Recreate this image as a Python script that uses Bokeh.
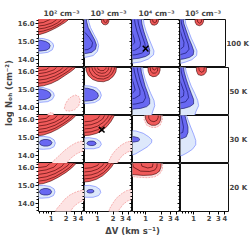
from bokeh.plotting import figure
from bokeh.layouts import row, column
from bokeh.models import Range1d, FixedTicker, PrintfTickFormatter, LinearAxis, Title
from bokeh.embed import file_html
from bokeh.resources import INLINE

# ---------------- data ----------------
T_LABELS = ["100 K", "50 K", "30 K", "20 K"]
N_LABELS = ["10² cm⁻³", "10³ cm⁻³", "10⁴ cm⁻³", "10⁵ cm⁻³"]
X_TICKS = [1, 2, 3, 4]
X_MINOR = [0.6, 0.7, 0.8, 0.9]
Y_TICKS = [14, 15, 16]
Y_MINOR = [13.6, 13.8, 14.2, 14.4, 14.6, 14.8, 15.2, 15.4, 15.6, 15.8, 16.2]
X_LABEL = "ΔV (km s⁻¹)"
Y_LABEL = "log Nₒₕ (cm⁻²)"

# best-fit markers
MARK_ROW = [0, 2]
MARK_COL = [2, 1]
MARK_DV = [1.0, 1.2]
MARK_N = [14.61, 15.45]

# contour polygons, vertices as (dV [km/s], log N)
# ---- 100 K ----
red_100K_1e2 = [
    [(0.45, 15.38), (0.6, 15.41), (0.8, 15.52), (1.0, 15.64), (1.3, 15.8), (1.6, 15.95), (1.9, 16.08), (2.2, 16.22), (2.35, 16.4), (0.45, 16.4)],
    [(0.45, 15.52), (0.7, 15.6), (1.0, 15.74), (1.3, 15.9), (1.6, 16.05), (1.9, 16.24), (2.0, 16.4), (0.45, 16.4)],
    [(0.45, 15.68), (0.75, 15.77), (1.05, 15.9), (1.35, 16.06), (1.6, 16.22), (1.7, 16.4), (0.45, 16.4)],
    [(0.45, 15.85), (0.75, 15.93), (1.05, 16.06), (1.3, 16.25), (1.38, 16.4), (0.45, 16.4)],
    [(0.45, 16.02), (0.7, 16.08), (0.95, 16.25), (1.02, 16.4), (0.45, 16.4)],
]
blue_100K_1e2 = [
    [(0.45, 15.08), (0.62, 15.08), (0.78, 15.02), (0.9, 14.92), (0.96, 14.78), (0.92, 14.62), (0.8, 14.52), (0.62, 14.48), (0.45, 14.48)],
]
lblue_100K_1e2 = [
    [(0.45, 15.2), (0.7, 15.18), (0.92, 15.08), (1.08, 14.92), (1.13, 14.76), (1.06, 14.55), (0.86, 14.4), (0.62, 14.35), (0.45, 14.35)],
]
pink_100K_1e2 = []

red_100K_1e3 = [
    [(1.17, 16.4), (1.19, 16.1), (1.28, 15.98), (1.42, 15.95), (1.56, 16.0), (1.64, 16.12), (1.66, 16.4)],
    [(1.3, 16.4), (1.32, 16.14), (1.42, 16.07), (1.52, 16.12), (1.55, 16.4)],
]
blue_100K_1e3 = [
    [(0.45, 16.4), (0.6, 16.4), (0.62, 16.1), (0.66, 15.8), (0.76, 15.45), (0.88, 15.1), (0.95, 14.82), (0.91, 14.57), (0.77, 14.4), (0.6, 14.34), (0.45, 14.34)],
    [(0.45, 15.65), (0.58, 15.5), (0.7, 15.22), (0.8, 14.95), (0.77, 14.7), (0.65, 14.56), (0.45, 14.52)],
]
lblue_100K_1e3 = [
    [(0.45, 16.4), (0.65, 16.4), (0.68, 16.1), (0.73, 15.8), (0.85, 15.42), (0.99, 15.05), (1.05, 14.78), (0.99, 14.45), (0.82, 14.22), (0.6, 14.13), (0.45, 14.12)],
]
pink_100K_1e3 = []

red_100K_1e4 = [
    [(1.22, 16.4), (1.24, 16.1), (1.32, 15.96), (1.48, 15.93), (1.66, 15.99), (1.76, 16.12), (1.78, 16.4)],
    [(1.35, 16.4), (1.38, 16.13), (1.5, 16.07), (1.62, 16.13), (1.64, 16.4)],
]
blue_100K_1e4 = [
    [(0.45, 16.4), (0.82, 16.4), (0.85, 16.0), (0.92, 15.6), (1.02, 15.2), (1.12, 14.85), (1.2, 14.52), (1.18, 14.3), (1.0, 14.17), (0.75, 14.07), (0.45, 14.0)],
    [(0.45, 16.4), (0.7, 16.4), (0.73, 16.0), (0.8, 15.6), (0.89, 15.2), (0.97, 14.88), (1.0, 14.58), (0.87, 14.37), (0.65, 14.27), (0.45, 14.23)],
    [(0.45, 16.4), (0.6, 16.4), (0.63, 16.0), (0.68, 15.6), (0.75, 15.22), (0.8, 14.93), (0.78, 14.7), (0.62, 14.52), (0.45, 14.47)],
    [(0.45, 15.95), (0.55, 15.55), (0.6, 15.2), (0.62, 14.95), (0.55, 14.8), (0.45, 14.75)],
]
lblue_100K_1e4 = [
    [(0.45, 16.4), (0.9, 16.4), (0.93, 16.0), (1.02, 15.6), (1.15, 15.2), (1.3, 14.82), (1.45, 14.48), (1.42, 14.26), (1.12, 14.02), (0.8, 13.86), (0.45, 13.76)],
]
pink_100K_1e4 = []

red_100K_1e5 = [
    [(1.1, 16.4), (1.12, 16.1), (1.2, 15.95), (1.38, 15.9), (1.56, 15.97), (1.66, 16.12), (1.68, 16.4)],
    [(1.23, 16.4), (1.26, 16.12), (1.38, 16.04), (1.5, 16.1), (1.53, 16.4)],
]
blue_100K_1e5 = [
    [(0.45, 16.4), (0.62, 16.4), (0.66, 16.0), (0.74, 15.6), (0.83, 15.2), (0.95, 14.82), (1.05, 14.48), (1.02, 14.26), (0.86, 14.12), (0.65, 14.03), (0.45, 13.98)],
    [(0.45, 16.4), (0.56, 16.4), (0.59, 16.0), (0.65, 15.6), (0.72, 15.22), (0.8, 14.88), (0.84, 14.58), (0.73, 14.37), (0.55, 14.27), (0.45, 14.24)],
    [(0.45, 16.1), (0.54, 15.7), (0.6, 15.3), (0.66, 14.97), (0.65, 14.72), (0.54, 14.55), (0.45, 14.52)],
    [(0.45, 15.45), (0.52, 15.2), (0.54, 14.96), (0.45, 14.82)],
]
lblue_100K_1e5 = [
    [(0.45, 16.4), (0.68, 16.4), (0.72, 16.0), (0.82, 15.6), (0.93, 15.2), (1.08, 14.82), (1.22, 14.48), (1.2, 14.22), (0.96, 13.99), (0.7, 13.85), (0.45, 13.72)],
]
pink_100K_1e5 = []

# ---- 50 K ----
red_50K_1e2 = [
    [(0.45, 15.16), (0.7, 15.22), (1.0, 15.35), (1.4, 15.55), (1.9, 15.8), (2.5, 16.02), (3.0, 16.2), (3.3, 16.4), (0.45, 16.4)],
    [(0.45, 15.32), (0.8, 15.42), (1.2, 15.6), (1.7, 15.84), (2.2, 16.04), (2.7, 16.25), (2.9, 16.4), (0.45, 16.4)],
    [(0.45, 15.5), (0.8, 15.6), (1.2, 15.77), (1.7, 16.0), (2.15, 16.22), (2.4, 16.4), (0.45, 16.4)],
    [(0.45, 15.68), (0.8, 15.79), (1.2, 15.95), (1.6, 16.14), (1.9, 16.4), (0.45, 16.4)],
    [(0.45, 15.86), (0.8, 15.97), (1.15, 16.12), (1.45, 16.4), (0.45, 16.4)],
    [(0.45, 16.04), (0.8, 16.13), (1.05, 16.4), (0.45, 16.4)],
]
blue_50K_1e2 = [
    [(0.45, 15.04), (0.62, 15.04), (0.8, 14.97), (0.94, 14.85), (1.0, 14.7), (0.94, 14.56), (0.78, 14.46), (0.6, 14.43), (0.45, 14.43)],
]
lblue_50K_1e2 = [
    [(0.45, 15.15), (0.7, 15.12), (0.95, 15.0), (1.12, 14.83), (1.16, 14.66), (1.06, 14.46), (0.86, 14.33), (0.6, 14.29), (0.45, 14.29)],
]
pink_50K_1e2 = [
    [(1.85, 13.95), (1.95, 14.2), (2.2, 14.45), (2.6, 14.62), (3.1, 14.7), (3.6, 14.62), (3.85, 14.4), (3.6, 14.1), (3.0, 13.88), (2.4, 13.8), (2.0, 13.82)],
    [(0.85, 13.4), (0.87, 13.64), (0.98, 13.71), (1.1, 13.68), (1.16, 13.4)],
]

red_50K_1e3 = [
    [(0.6, 16.4), (0.6, 16.1), (0.66, 15.8), (0.8, 15.58), (1.0, 15.47), (1.3, 15.45), (1.65, 15.55), (2.0, 15.75), (2.25, 16.0), (2.35, 16.4)],
    [(0.68, 16.4), (0.7, 16.05), (0.8, 15.78), (1.0, 15.63), (1.3, 15.6), (1.6, 15.7), (1.9, 15.9), (2.1, 16.15), (2.15, 16.4)],
    [(0.76, 16.4), (0.8, 16.1), (0.92, 15.88), (1.1, 15.77), (1.35, 15.76), (1.6, 15.85), (1.8, 16.05), (1.9, 16.4)],
    [(0.86, 16.4), (0.9, 16.12), (1.02, 15.97), (1.2, 15.92), (1.4, 15.95), (1.6, 16.1), (1.65, 16.4)],
    [(0.97, 16.4), (1.02, 16.15), (1.15, 16.07), (1.32, 16.08), (1.45, 16.2), (1.48, 16.4)],
]
blue_50K_1e3 = [
    [(0.45, 15.1), (0.65, 15.08), (0.85, 14.98), (1.0, 14.82), (1.04, 14.65), (0.97, 14.5), (0.8, 14.4), (0.6, 14.36), (0.45, 14.36)],
]
lblue_50K_1e3 = [
    [(0.45, 15.24), (0.7, 15.21), (0.95, 15.1), (1.12, 14.9), (1.18, 14.68), (1.1, 14.45), (0.88, 14.28), (0.6, 14.22), (0.45, 14.22)],
]
pink_50K_1e3 = []

red_50K_1e4 = [
    [(1.1, 16.4), (1.12, 16.05), (1.2, 15.82), (1.38, 15.73), (1.6, 15.76), (1.8, 15.88), (1.9, 16.1), (1.9, 16.4)],
    [(1.22, 16.4), (1.25, 16.05), (1.38, 15.93), (1.55, 15.94), (1.7, 16.05), (1.72, 16.4)],
    [(1.35, 16.4), (1.38, 16.15), (1.5, 16.1), (1.6, 16.2), (1.6, 16.4)],
]
blue_50K_1e4 = [
    [(0.45, 16.4), (0.8, 16.4), (0.83, 16.0), (0.9, 15.6), (0.98, 15.2), (1.1, 14.8), (1.2, 14.45), (1.2, 14.2), (1.05, 14.05), (0.8, 13.95), (0.45, 13.88)],
    [(0.45, 16.4), (0.68, 16.4), (0.71, 16.0), (0.77, 15.6), (0.85, 15.2), (0.95, 14.85), (1.0, 14.55), (0.9, 14.3), (0.65, 14.2), (0.45, 14.15)],
    [(0.45, 16.4), (0.58, 16.4), (0.61, 16.0), (0.66, 15.6), (0.72, 15.25), (0.78, 14.95), (0.78, 14.7), (0.62, 14.52), (0.45, 14.45)],
    [(0.45, 16.0), (0.55, 15.6), (0.6, 15.25), (0.63, 14.98), (0.56, 14.8), (0.45, 14.75)],
]
lblue_50K_1e4 = [
    [(0.45, 16.4), (0.87, 16.4), (0.9, 16.0), (0.98, 15.6), (1.1, 15.2), (1.25, 14.8), (1.45, 14.4), (1.5, 14.1), (1.38, 13.8), (1.25, 13.4), (0.45, 13.4)],
]
pink_50K_1e4 = []

red_50K_1e5 = [
    [(1.12, 16.4), (1.14, 16.05), (1.22, 15.85), (1.4, 15.8), (1.6, 15.85), (1.75, 16.0), (1.8, 16.4)],
    [(1.25, 16.4), (1.28, 16.08), (1.42, 15.98), (1.58, 16.05), (1.62, 16.4)],
]
blue_50K_1e5 = [
    [(0.45, 16.4), (0.63, 16.4), (0.66, 16.0), (0.72, 15.6), (0.8, 15.2), (0.9, 14.8), (1.0, 14.45), (1.0, 14.2), (0.85, 14.05), (0.65, 13.95), (0.45, 13.9)],
    [(0.45, 16.4), (0.56, 16.4), (0.58, 16.0), (0.63, 15.6), (0.7, 15.2), (0.77, 14.85), (0.8, 14.55), (0.7, 14.32), (0.45, 14.2)],
    [(0.45, 16.0), (0.53, 15.6), (0.6, 15.2), (0.65, 14.9), (0.64, 14.65), (0.52, 14.5), (0.45, 14.48)],
    [(0.45, 15.3), (0.52, 15.0), (0.52, 14.8), (0.45, 14.72)],
]
lblue_50K_1e5 = [
    [(0.45, 16.4), (0.68, 16.4), (0.72, 16.0), (0.8, 15.6), (0.9, 15.2), (1.05, 14.8), (1.2, 14.4), (1.25, 14.1), (1.12, 13.8), (1.0, 13.4), (0.45, 13.4)],
]
pink_50K_1e5 = []

# ---- 30 K ----
red_30K_1e2 = [
    [(0.45, 15.08), (0.7, 15.15), (1.0, 15.3), (1.4, 15.5), (2.0, 15.78), (2.6, 16.02), (3.1, 16.22), (3.35, 16.4), (0.45, 16.4)],
    [(0.45, 15.25), (0.8, 15.35), (1.2, 15.53), (1.7, 15.77), (2.3, 16.02), (2.8, 16.25), (3.0, 16.4), (0.45, 16.4)],
    [(0.45, 15.43), (0.8, 15.53), (1.2, 15.7), (1.7, 15.94), (2.2, 16.16), (2.5, 16.4), (0.45, 16.4)],
    [(0.45, 15.62), (0.8, 15.72), (1.2, 15.88), (1.65, 16.1), (2.0, 16.4), (0.45, 16.4)],
    [(0.45, 15.81), (0.8, 15.91), (1.15, 16.06), (1.5, 16.4), (0.45, 16.4)],
    [(0.45, 16.0), (0.8, 16.09), (1.1, 16.4), (0.45, 16.4)],
]
blue_30K_1e2 = [
    [(0.58, 14.72), (0.62, 14.84), (0.72, 14.9), (0.85, 14.9), (0.98, 14.84), (1.05, 14.72), (0.98, 14.59), (0.85, 14.53), (0.72, 14.53), (0.62, 14.59)],
]
lblue_30K_1e2 = [
    [(0.45, 15.05), (0.7, 15.08), (0.95, 15.02), (1.15, 14.88), (1.22, 14.7), (1.15, 14.5), (0.95, 14.38), (0.7, 14.35), (0.45, 14.38)],
]
pink_30K_1e2 = [
    [(1.0, 13.4), (1.1, 13.68), (1.4, 13.95), (1.9, 14.3), (2.5, 14.55), (3.2, 14.72), (4.0, 14.8), (5.0, 14.8), (5.0, 14.28), (4.0, 14.22), (3.2, 14.08), (2.5, 13.85), (2.1, 13.6), (1.9, 13.4)],
]

red_30K_1e3 = [
    [(0.45, 15.1), (0.7, 15.14), (0.95, 15.24), (1.2, 15.38), (1.5, 15.62), (1.8, 15.9), (2.05, 16.18), (2.15, 16.4), (0.45, 16.4)],
    [(0.45, 15.28), (0.75, 15.33), (1.0, 15.45), (1.3, 15.65), (1.6, 15.92), (1.85, 16.2), (1.95, 16.4), (0.45, 16.4)],
    [(0.45, 15.47), (0.75, 15.53), (1.0, 15.65), (1.3, 15.87), (1.55, 16.12), (1.7, 16.4), (0.45, 16.4)],
    [(0.45, 15.67), (0.75, 15.73), (1.0, 15.86), (1.25, 16.05), (1.45, 16.4), (0.45, 16.4)],
    [(0.45, 15.87), (0.75, 15.93), (1.0, 16.07), (1.2, 16.4), (0.45, 16.4)],
]
blue_30K_1e3 = [
    [(0.62, 14.68), (0.65, 14.77), (0.72, 14.81), (0.82, 14.81), (0.9, 14.76), (0.94, 14.68), (0.9, 14.6), (0.82, 14.56), (0.72, 14.56), (0.65, 14.6)],
]
lblue_30K_1e3 = [
    [(0.45, 14.98), (0.7, 15.0), (0.95, 14.93), (1.13, 14.78), (1.18, 14.62), (1.08, 14.46), (0.85, 14.38), (0.6, 14.38), (0.45, 14.42)],
]
pink_30K_1e3 = [
    [(1.55, 13.4), (1.65, 13.7), (1.9, 14.05), (2.3, 14.35), (2.9, 14.6), (3.6, 14.75), (5.0, 14.85), (5.0, 14.3), (3.8, 14.2), (3.0, 14.0), (2.5, 13.7), (2.3, 13.4)],
]

red_30K_1e4 = [
    [(1.0, 16.4), (1.0, 16.05), (1.1, 15.82), (1.3, 15.7), (1.55, 15.7), (1.8, 15.8), (1.95, 16.0), (1.98, 16.4)],
    [(1.15, 16.4), (1.15, 16.1), (1.25, 15.95), (1.45, 15.9), (1.65, 15.98), (1.75, 16.15), (1.75, 16.4)],
]
blue_30K_1e4 = [
    [(0.45, 15.05), (0.6, 15.06), (0.72, 15.0), (0.78, 14.9), (0.72, 14.8), (0.6, 14.76), (0.45, 14.76)],
]
lblue_30K_1e4 = [
    [(0.45, 15.4), (0.65, 15.38), (0.9, 15.25), (1.15, 15.05), (1.32, 14.88), (1.3, 14.72), (1.1, 14.5), (0.85, 14.3), (0.65, 14.1), (0.5, 13.98), (0.45, 13.98)],
]
pink_30K_1e4 = [
    [(0.95, 16.4), (0.94, 16.0), (1.05, 15.7), (1.3, 15.58), (1.6, 15.58), (1.9, 15.7), (2.1, 16.0), (2.1, 16.4)],
]

red_30K_1e5 = []
blue_30K_1e5 = [
    [(0.45, 16.4), (0.66, 16.4), (0.72, 16.0), (0.78, 15.6), (0.78, 15.3), (0.72, 15.05), (0.6, 14.95), (0.45, 14.92)],
    [(0.45, 16.4), (0.56, 16.4), (0.6, 16.0), (0.64, 15.6), (0.62, 15.3), (0.45, 15.15)],
]
lblue_30K_1e5 = [
    [(0.45, 16.4), (0.7, 16.4), (0.78, 16.0), (0.88, 15.6), (1.0, 15.2), (1.1, 14.85), (1.1, 14.6), (0.95, 14.35), (0.75, 14.15), (0.6, 14.0), (0.45, 13.95)],
]
pink_30K_1e5 = []

# ---- 20 K ----
red_20K_1e2 = [
    [(0.45, 15.05), (0.7, 15.12), (1.0, 15.27), (1.4, 15.48), (2.0, 15.75), (2.6, 16.0), (3.1, 16.22), (3.3, 16.4), (0.45, 16.4)],
    [(0.45, 15.22), (0.8, 15.32), (1.2, 15.5), (1.7, 15.75), (2.3, 16.0), (2.8, 16.24), (3.0, 16.4), (0.45, 16.4)],
    [(0.45, 15.4), (0.8, 15.5), (1.2, 15.68), (1.7, 15.92), (2.2, 16.15), (2.5, 16.4), (0.45, 16.4)],
    [(0.45, 15.6), (0.8, 15.7), (1.2, 15.86), (1.65, 16.09), (2.0, 16.4), (0.45, 16.4)],
    [(0.45, 15.79), (0.8, 15.89), (1.15, 16.05), (1.5, 16.4), (0.45, 16.4)],
    [(0.45, 15.98), (0.8, 16.08), (1.1, 16.4), (0.45, 16.4)],
]
blue_20K_1e2 = [
    [(0.58, 14.66), (0.62, 14.78), (0.72, 14.84), (0.85, 14.84), (0.97, 14.78), (1.03, 14.66), (0.97, 14.53), (0.85, 14.48), (0.72, 14.48), (0.62, 14.53)],
]
lblue_20K_1e2 = [
    [(0.45, 15.0), (0.7, 15.02), (0.95, 14.96), (1.15, 14.82), (1.2, 14.65), (1.12, 14.45), (0.9, 14.33), (0.65, 14.3), (0.45, 14.33)],
]
pink_20K_1e2 = [
    [(1.15, 13.4), (1.3, 13.7), (1.55, 13.95), (1.9, 14.25), (2.4, 14.48), (3.0, 14.62), (3.6, 14.7), (5.0, 14.78), (5.0, 14.15), (4.2, 14.15), (3.4, 14.0), (2.8, 13.8), (2.45, 13.55), (2.3, 13.4)],
]

red_20K_1e3 = [
    [(0.45, 15.18), (0.7, 15.24), (0.95, 15.36), (1.25, 15.56), (1.55, 15.8), (1.85, 16.05), (2.05, 16.25), (2.15, 16.4), (0.45, 16.4)],
    [(0.45, 15.36), (0.75, 15.42), (1.0, 15.54), (1.3, 15.74), (1.6, 16.0), (1.85, 16.25), (1.95, 16.4), (0.45, 16.4)],
    [(0.45, 15.55), (0.75, 15.61), (1.0, 15.73), (1.3, 15.94), (1.55, 16.2), (1.65, 16.4), (0.45, 16.4)],
    [(0.45, 15.75), (0.75, 15.81), (1.0, 15.93), (1.25, 16.14), (1.4, 16.4), (0.45, 16.4)],
    [(0.45, 15.95), (0.75, 16.01), (1.0, 16.14), (1.15, 16.4), (0.45, 16.4)],
]
blue_20K_1e3 = [
    [(0.62, 14.69), (0.65, 14.76), (0.72, 14.79), (0.8, 14.78), (0.85, 14.72), (0.84, 14.64), (0.78, 14.6), (0.7, 14.59), (0.64, 14.62)],
]
lblue_20K_1e3 = [
    [(0.45, 15.0), (0.7, 15.02), (0.92, 14.95), (1.1, 14.8), (1.15, 14.62), (1.05, 14.45), (0.82, 14.35), (0.6, 14.35), (0.45, 14.4)],
]
pink_20K_1e3 = [
    [(1.6, 13.4), (1.7, 13.7), (1.95, 14.0), (2.3, 14.3), (2.9, 14.55), (3.6, 14.72), (5.0, 14.82), (5.0, 14.25), (3.8, 14.15), (3.1, 13.95), (2.6, 13.65), (2.4, 13.4)],
]

red_20K_1e4 = [
    [(0.45, 16.4), (0.45, 15.66), (0.6, 15.62), (0.9, 15.58), (1.3, 15.6), (1.6, 15.68), (1.85, 15.82), (1.98, 16.05), (2.0, 16.4)],
    [(0.55, 16.4), (0.58, 16.05), (0.8, 15.82), (1.2, 15.8), (1.5, 15.88), (1.65, 16.05), (1.68, 16.4)],
    [(0.8, 16.4), (0.85, 16.1), (1.1, 16.0), (1.35, 16.05), (1.42, 16.4)],
]
blue_20K_1e4 = []
lblue_20K_1e4 = []
pink_20K_1e4 = [
    [(0.45, 16.4), (0.45, 15.55), (0.7, 15.48), (1.1, 15.45), (1.5, 15.5), (1.85, 15.65), (2.1, 15.9), (2.15, 16.4)],
]

red_20K_1e5 = []
blue_20K_1e5 = []
lblue_20K_1e5 = []
pink_20K_1e5 = []

RED = [[red_100K_1e2, red_100K_1e3, red_100K_1e4, red_100K_1e5],
       [red_50K_1e2, red_50K_1e3, red_50K_1e4, red_50K_1e5],
       [red_30K_1e2, red_30K_1e3, red_30K_1e4, red_30K_1e5],
       [red_20K_1e2, red_20K_1e3, red_20K_1e4, red_20K_1e5]]
BLUE = [[blue_100K_1e2, blue_100K_1e3, blue_100K_1e4, blue_100K_1e5],
        [blue_50K_1e2, blue_50K_1e3, blue_50K_1e4, blue_50K_1e5],
        [blue_30K_1e2, blue_30K_1e3, blue_30K_1e4, blue_30K_1e5],
        [blue_20K_1e2, blue_20K_1e3, blue_20K_1e4, blue_20K_1e5]]
LBLUE = [[lblue_100K_1e2, lblue_100K_1e3, lblue_100K_1e4, lblue_100K_1e5],
         [lblue_50K_1e2, lblue_50K_1e3, lblue_50K_1e4, lblue_50K_1e5],
         [lblue_30K_1e2, lblue_30K_1e3, lblue_30K_1e4, lblue_30K_1e5],
         [lblue_20K_1e2, lblue_20K_1e3, lblue_20K_1e4, lblue_20K_1e5]]
PINK = [[pink_100K_1e2, pink_100K_1e3, pink_100K_1e4, pink_100K_1e5],
        [pink_50K_1e2, pink_50K_1e3, pink_50K_1e4, pink_50K_1e5],
        [pink_30K_1e2, pink_30K_1e3, pink_30K_1e4, pink_30K_1e5],
        [pink_20K_1e2, pink_20K_1e3, pink_20K_1e4, pink_20K_1e5]]

# ---------------- style / layout ----------------
FONT = "DejaVu Sans"
XMIN, XMAX = 0.56, 4.7
YMIN, YMAX = 13.55, 16.25
YMID = 14.9
W, H = 48, 48
YLAB_W = 14
LEFT, RIGHT, TOP, BOTTOM = 22, 23, 19, 12
XLAB_H = 17

RED_FILL, RED_LINE = "#f05a5a", "#3a0000"
BLUE_FILL, BLUE_LINE = "#6868f2", "#0c0c5a"
LBLUE_FILL, LBLUE_LINE = "#dde8fb", "#8795ff"
PINK_FILL, PINK_LINE = "#fde3e3", "#f4a0a0"


def draw(p, polys, fill, line, width, dash="solid"):
    if not polys:
        return
    xs = [[v[0] for v in poly] for poly in polys]
    ys = [[v[1] for v in poly] for poly in polys]
    p.patches(xs, ys, fill_color=fill, line_color=line, line_width=width, line_dash=dash)


def hidden_axis(ticks, minor):
    ax = LinearAxis(ticker=FixedTicker(ticks=ticks, minor_ticks=minor))
    ax.major_label_overrides = {t: "" for t in ticks}
    ax.major_label_standoff = 0
    ax.major_tick_out = 0
    ax.minor_tick_out = 0
    ax.major_tick_in = 3
    ax.minor_tick_in = 2
    ax.axis_line_color = None
    ax.major_label_text_font_size = "6px"
    return ax


def make_panel(r, c):
    left = LEFT if c == 0 else 0
    right = RIGHT if c == 3 else 0
    top = TOP if r == 0 else 0
    bottom = BOTTOM if r == 3 else 0
    kw = dict(width=W + left + right, height=H + top + bottom,
              x_axis_type="log", x_range=Range1d(XMIN, XMAX), y_range=Range1d(YMIN, YMAX),
              toolbar_location=None, output_backend="svg",
              min_border_left=left, min_border_right=right,
              min_border_top=top, min_border_bottom=bottom,
              x_axis_location="below" if r == 3 else None,
              y_axis_location="left" if c == 0 else None)
    if r != 0:
        kw["title"] = None
    p = figure(**kw)
    p.xgrid.visible = False
    p.ygrid.visible = False
    p.outline_line_color = "#111111"
    p.outline_line_width = 1
    p.background_fill_color = "white"
    p.border_fill_color = "white"

    if r == 0:
        p.title.text = N_LABELS[c]
        p.title.align = "center"
        p.title.text_font = FONT
        p.title.text_font_size = "7.5px"
        p.title.text_font_style = "bold"
        p.title.standoff = 3

    if r == 3:
        ax = p.xaxis[0]
        ax.ticker = FixedTicker(ticks=X_TICKS, minor_ticks=X_MINOR)
        ax.formatter = PrintfTickFormatter(format="%d")
        ax.major_label_text_font = FONT
        ax.major_label_text_font_size = "6.8px"
        ax.major_label_text_font_style = "bold"
        ax.major_label_standoff = 1
        ax.major_tick_out = 3
        ax.minor_tick_out = 2
        ax.major_tick_in = 0
        ax.minor_tick_in = 0
        ax.axis_line_color = None
    if c == 0:
        ay = p.yaxis[0]
        ay.ticker = FixedTicker(ticks=Y_TICKS, minor_ticks=Y_MINOR)
        ay.formatter = PrintfTickFormatter(format="%.1f")
        ay.major_label_text_font = FONT
        ay.major_label_text_font_size = "6.8px"
        ay.major_label_text_font_style = "bold"
        ay.major_label_standoff = 1
        ay.major_tick_out = 3
        ay.minor_tick_out = 2
        ay.major_tick_in = 0
        ay.minor_tick_in = 0
        ay.axis_line_color = None
    if c < 3:
        p.add_layout(hidden_axis(Y_TICKS, Y_MINOR), "right")
    else:
        lab = LinearAxis(ticker=FixedTicker(ticks=[YMID], minor_ticks=[]))
        lab.major_label_overrides = {YMID: T_LABELS[r]}
        lab.major_label_text_font = FONT
        lab.major_label_text_font_size = "7px"
        lab.major_label_text_font_style = "bold"
        lab.major_label_standoff = 1
        lab.major_tick_out = 0
        lab.major_tick_in = 0
        lab.minor_tick_out = 0
        lab.minor_tick_in = 0
        lab.axis_line_color = None
        p.add_layout(lab, "right")

    draw(p, PINK[r][c], PINK_FILL, PINK_LINE, 0.8, "2 1")
    draw(p, LBLUE[r][c], LBLUE_FILL, LBLUE_LINE, 0.8)
    draw(p, RED[r][c], RED_FILL, RED_LINE, 0.6)
    draw(p, BLUE[r][c], BLUE_FILL, BLUE_LINE, 0.6)

    mx = [MARK_DV[i] for i in range(len(MARK_DV)) if MARK_ROW[i] == r and MARK_COL[i] == c]
    my = [MARK_N[i] for i in range(len(MARK_N)) if MARK_ROW[i] == r and MARK_COL[i] == c]
    if mx:
        p.scatter(mx, my, marker="x", size=8, line_color="black", line_width=1.5)
    return p


panels = [[make_panel(r, c) for c in range(4)] for r in range(4)]
grid = column(*[row(*panels[r]) for r in range(4)])

grid_h = H * 4 + TOP + BOTTOM
ylab = figure(width=YLAB_W, height=grid_h, x_axis_type=None, y_axis_type=None,
              x_range=Range1d(0, 1), y_range=Range1d(0, 1), title=None,
              toolbar_location=None, output_backend="svg",
              min_border_left=13, min_border_right=0, min_border_top=0, min_border_bottom=38)
ylab.outline_line_color = None
ylab.add_layout(Title(text=Y_LABEL, align="center", text_font=FONT, text_font_size="8.5px",
                      text_font_style="bold", standoff=0), "left")

xlab = figure(width=YLAB_W + LEFT + 4 * W + RIGHT, height=XLAB_H, x_axis_type=None, y_axis_type=None,
              x_range=Range1d(0, 1), y_range=Range1d(0, 1),
              toolbar_location=None, output_backend="svg",
              min_border_left=YLAB_W + LEFT, min_border_right=RIGHT, min_border_top=3, min_border_bottom=0)
xlab.outline_line_color = None
xlab.title.text = X_LABEL
xlab.title.align = "center"
xlab.title.text_font = FONT
xlab.title.text_font_size = "8.5px"
xlab.title.text_font_style = "bold"
xlab.title.standoff = 0

layout = column(row(ylab, grid), xlab)

open("out.html", "w").write(file_html(layout, INLINE))
